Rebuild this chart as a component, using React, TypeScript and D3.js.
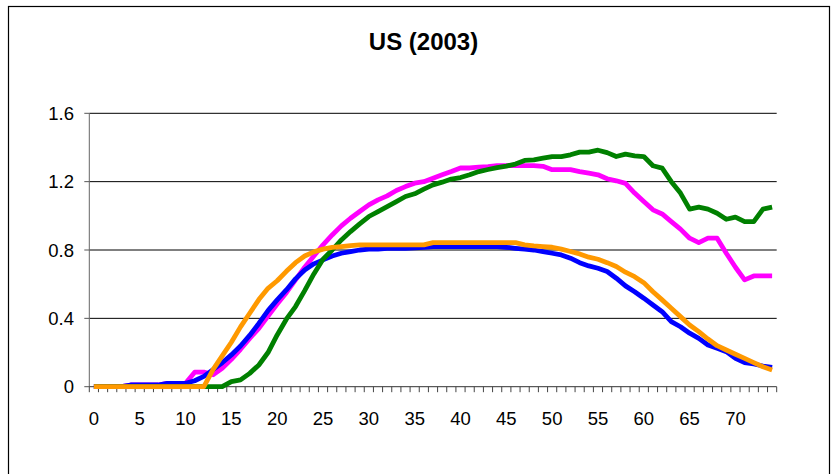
import React from "react";
import * as d3 from "d3";

const categories: number[] = d3.range(75);
const xTickLabels = ["0", "5", "10", "15", "20", "25", "30", "35", "40", "45", "50", "55", "60", "65", "70"];
const yTicks = [0, 0.4, 0.8, 1.2, 1.6];
const yTickLabels = ["0", "0.4", "0.8", "1.2", "1.6"];

const blue = [
  0, 0, 0, 0, 0.01, 0.01, 0.01, 0.01, 0.02, 0.02,
  0.02, 0.035, 0.06, 0.1, 0.14, 0.186, 0.238, 0.3, 0.37, 0.445,
  0.508, 0.566, 0.631, 0.683, 0.719, 0.742, 0.765, 0.781, 0.791, 0.8,
  0.805, 0.805, 0.81, 0.81, 0.81, 0.812, 0.815, 0.82, 0.82, 0.82,
  0.82, 0.82, 0.82, 0.82, 0.82, 0.816, 0.81, 0.805, 0.8, 0.791,
  0.781, 0.771, 0.752, 0.726, 0.707, 0.693, 0.674, 0.635, 0.59, 0.556,
  0.518, 0.478, 0.439, 0.381, 0.351, 0.313, 0.283, 0.244, 0.225, 0.205,
  0.166, 0.141, 0.133, 0.121, 0.113,
];

const magenta = [
  0, 0, 0, 0, 0.01, 0.01, 0.01, 0.01, 0.02, 0.02,
  0.02, 0.085, 0.085, 0.07, 0.108, 0.16, 0.219, 0.283, 0.342, 0.414,
  0.484, 0.55, 0.625, 0.699, 0.765, 0.83, 0.888, 0.941, 0.986, 1.025,
  1.064, 1.093, 1.117, 1.148, 1.171, 1.191, 1.2, 1.22, 1.24, 1.259,
  1.28, 1.28, 1.285, 1.288, 1.294, 1.294, 1.294, 1.294, 1.294, 1.29,
  1.27, 1.27, 1.27, 1.259, 1.25, 1.24, 1.217, 1.205, 1.19, 1.133,
  1.084, 1.035, 1.011, 0.966, 0.922, 0.869, 0.843, 0.869, 0.869, 0.781,
  0.699, 0.625, 0.648, 0.648, 0.648,
];

const green = [
  0, 0, 0, 0, 0, 0, 0, 0, 0, 0,
  0, 0, 0, 0, 0, 0.03, 0.04, 0.078, 0.127, 0.2,
  0.303, 0.395, 0.469, 0.562, 0.66, 0.746, 0.8, 0.859, 0.908, 0.953,
  0.996, 1.025, 1.054, 1.083, 1.113, 1.129, 1.156, 1.181, 1.197, 1.215,
  1.224, 1.24, 1.259, 1.271, 1.282, 1.291, 1.303, 1.324, 1.328, 1.337,
  1.347, 1.347, 1.357, 1.373, 1.373, 1.384, 1.37, 1.347, 1.361, 1.351,
  1.347, 1.293, 1.279, 1.2, 1.133, 1.039, 1.051, 1.039, 1.015, 0.98,
  0.992, 0.966, 0.966, 1.039, 1.051,
];

const orange = [
  0, 0, 0, 0, 0, 0, 0, 0, 0, 0,
  0, 0, 0, 0.1, 0.18, 0.26, 0.35, 0.43, 0.51, 0.576,
  0.62, 0.675, 0.726, 0.765, 0.789, 0.805, 0.815, 0.82, 0.826, 0.83,
  0.83, 0.83, 0.83, 0.83, 0.83, 0.83, 0.83, 0.843, 0.843, 0.843,
  0.843, 0.843, 0.843, 0.843, 0.843, 0.843, 0.843, 0.83, 0.824, 0.82,
  0.816, 0.805, 0.791, 0.777, 0.758, 0.746, 0.726, 0.703, 0.67, 0.644,
  0.609, 0.556, 0.508, 0.459, 0.41, 0.361, 0.322, 0.279, 0.24, 0.215,
  0.19, 0.166, 0.141, 0.117, 0.098,
];

const seriesList = [
  { name: "magenta", values: magenta, color: "#FF00FF" },
  { name: "blue", values: blue, color: "#0000FF" },
  { name: "green", values: green, color: "#008000" },
  { name: "orange", values: orange, color: "#FF9900" },
];

const W = 831;
const H = 474;
const left = 89.3;
const right = 776.7;
const top = 113.3;
const bottom = 386.7;
const FONT = "Arial, 'Liberation Sans', sans-serif";

export default function App() {
  const x = d3
    .scaleBand<number>()
    .domain(categories)
    .range([left, right])
    .paddingInner(0)
    .paddingOuter(0);
  const bw = x.bandwidth();
  const cx = (c: number) => (x(c) as number) + bw / 2;
  const y = d3.scaleLinear().domain([0, 1.6]).range([bottom, top]);

  const line = d3
    .line<number>()
    .x((_, i) => cx(categories[i]))
    .y((d) => y(d));

  const tickPositions = d3.range(categories.length + 1).map((i) => left + i * bw);

  return (
    <svg
      width={W}
      height={H}
      style={{ position: "absolute", left: 0, top: 0, background: "#fff" }}
    >
      <rect x={0} y={0} width={W} height={H} fill="#fff" />
      <rect x={8.5} y={6.5} width={821} height={490} fill="none" stroke="#000" strokeWidth={1.2} />
      <text
        x={423.5}
        y={49.5}
        textAnchor="middle"
        fontFamily={FONT}
        fontWeight="bold"
        fontSize={24}
        fill="#000"
      >
        US (2003)
      </text>

      {yTicks.map((t, i) => (
        <g key={"y" + i}>
          {t > 0 && (
            <line x1={left} x2={right} y1={y(t)} y2={y(t)} stroke="#000" strokeWidth={1} />
          )}
          <line x1={left - 5} x2={left} y1={y(t)} y2={y(t)} stroke="#555" strokeWidth={1} />
          <text
            x={74}
            y={y(t) + 6.7}
            textAnchor="end"
            fontFamily={FONT}
            fontSize={18.5}
            fill="#000"
          >
            {yTickLabels[i]}
          </text>
        </g>
      ))}

      <line x1={left} x2={left} y1={top} y2={bottom} stroke="#666" strokeWidth={1} />
      <line x1={left} x2={right} y1={bottom} y2={bottom} stroke="#333" strokeWidth={1} />
      {tickPositions.map((p, i) => (
        <line key={"t" + i} x1={p} x2={p} y1={bottom} y2={bottom + 5.5} stroke="#444" strokeWidth={1} />
      ))}
      {xTickLabels.map((lab) => (
        <text
          key={"xl" + lab}
          x={cx(+lab)}
          y={425}
          textAnchor="middle"
          fontFamily={FONT}
          fontSize={18.5}
          fill="#000"
        >
          {lab}
        </text>
      ))}

      {seriesList.map((s) => (
        <path
          key={s.name}
          d={line(s.values) || ""}
          fill="none"
          stroke={s.color}
          strokeWidth={4.8}
          strokeLinejoin="round"
          strokeLinecap="butt"
        />
      ))}
    </svg>
  );
}
